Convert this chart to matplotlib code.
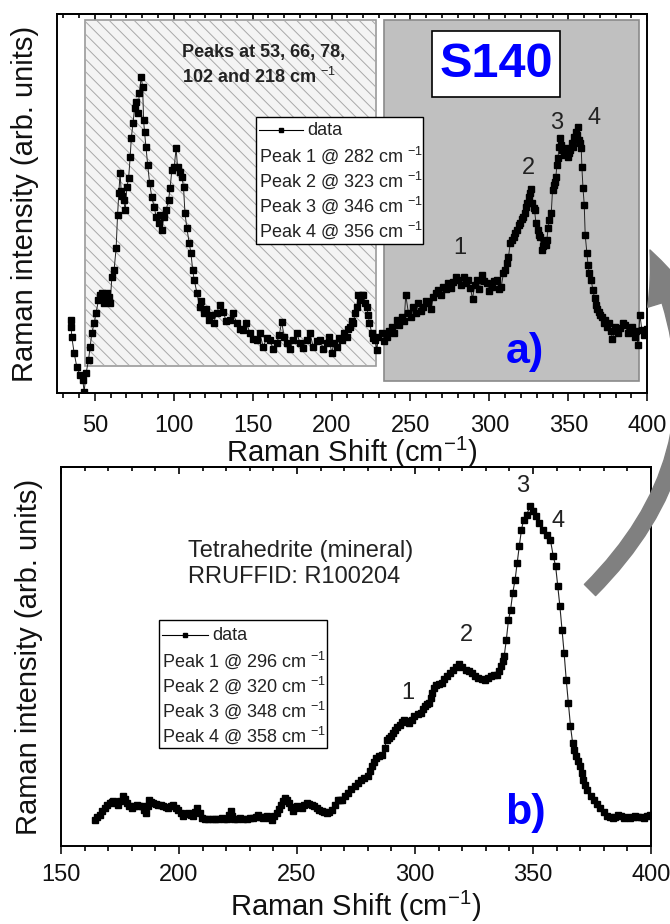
import matplotlib
matplotlib.use('Agg')
import matplotlib.pyplot as plt
import numpy as np
from matplotlib.patches import Rectangle, FancyArrowPatch
from matplotlib.collections import LineCollection
from matplotlib.lines import Line2D
import matplotlib.transforms as mtransforms

plt.rcParams['font.family'] = ['Liberation Sans', 'DejaVu Sans']
plt.rcParams['mathtext.fontset'] = 'custom'
plt.rcParams['mathtext.rm'] = 'Liberation Sans'
plt.rcParams['mathtext.it'] = 'Liberation Sans:italic'
plt.rcParams['mathtext.bf'] = 'Liberation Sans:bold'

# ---------------- data: panel a) S140 ----------------
a_x1 = [34.8, 35.0, 35.4, 36.9, 38.6, 40.7, 42.4, 43.2, 44.5, 46.0,
        47.0, 48.1, 49.6, 50.8, 52.3, 53.4, 54.4, 55.5, 56.5, 57.6,
        58.7, 59.7, 60.8, 62.2, 63.5, 64.4, 65.2, 66.0, 66.7, 67.4,
        68.2, 69.3, 70.3, 71.4, 72.4, 73.1, 74.2, 75.2, 76.3, 77.3,
        78.2, 79.4, 80.3, 80.9, 81.5, 82.4, 83.5, 84.7, 86.1, 87.6,
        88.9, 90.4, 91.5, 92.5, 93.6, 95.2, 96.7, 97.7, 98.8, 100.3,
        101.5, 102.4, 103.7, 105.2, 106.2, 107.1, 108.3, 109.8, 110.9, 112.0,
        113.0, 114.7, 116.4, 117.5, 118.9, 120.5, 122.1, 123.5, 125.3]
a_y1 = [73, 66, 56, 40, 26, 18, 13, 1, 20, 33,
        46, 60, 70, 80, 93, 98, 100, 90, 93, 100,
        96, 90, 116, 123, 145, 178, 200, 220, 202, 197,
        193, 183, 206, 215, 236, 255, 270, 285, 291, 280,
        300, 316, 306, 273, 261, 246, 228, 210, 196, 186,
        176, 170, 178, 163, 176, 183, 193, 205, 223, 226,
        245, 226, 221, 216, 206, 180, 165, 150, 140, 123,
        113, 100, 86, 92, 80, 84, 73, 78, 70]

a_x2 = [127.2, 129.0, 131.4, 133.2, 135.6, 137.5, 139.9, 142.0, 144.0, 146.0,
        148.3, 150.3, 152.5, 154.5, 156.7, 158.8, 161.0, 163.0, 165.2, 166.8,
        168.4, 170.0, 171.6, 173.7, 175.8, 177.9, 180.0, 182.1, 184.2, 186.3,
        188.4, 190.5, 192.7, 194.8, 196.9, 198.5, 200.0, 201.6, 203.2, 204.8,
        206.4, 208.0, 209.6, 210.6, 211.7, 212.8, 213.8, 214.9, 215.9, 217.0,
        218.0, 219.0, 220.1, 221.2, 222.3, 223.2, 224.0, 225.5, 226.5, 227.6,
        228.7]
a_y2 = [80, 88, 81, 72, 73, 80, 70, 64, 63, 70,
        60, 54, 53, 60, 46, 55, 53, 44, 50, 58,
        71, 56, 50, 44, 53, 60, 50, 45, 53, 60,
        46, 52, 53, 44, 50, 56, 40, 50, 46, 55,
        53, 60, 56, 64, 66, 72, 70, 80, 86, 98,
        93, 98, 98, 90, 86, 78, 70, 60, 55, 53,
        43]

a_x3 = [229.6, 231.8, 233.4, 235.0, 236.6, 238.1, 239.7, 241.3, 242.9, 244.5,
        246.0, 247.0, 248.7, 250.3, 251.9, 253.5, 255.0, 256.6, 258.2, 259.8,
        261.4, 263.0, 264.5, 266.1, 267.7, 269.3, 270.9, 272.5, 274.0, 275.6,
        277.2, 278.8, 280.4, 282.0, 283.6, 285.2, 286.7, 288.0, 289.3, 290.7,
        292.0, 293.6, 295.2, 296.8, 298.4, 300.0, 301.5, 303.1, 304.7, 306.1,
        307.5, 308.9, 310.0, 311.1, 312.1, 313.2, 314.2, 315.3, 316.4, 317.4,
        318.5, 319.5, 320.5, 321.6, 322.4, 323.1, 324.0, 324.8, 325.6, 326.5,
        327.3, 328.0, 328.6, 329.5, 330.7, 331.5, 332.2, 333.2, 334.0, 334.9,
        335.6, 336.4, 337.2, 337.9, 339.2, 340.0, 340.7, 341.3, 342.1, 342.8,
        343.4, 344.2, 344.9, 345.6, 346.3, 347.1, 348.0, 348.8, 349.7, 350.4,
        351.2, 352.2, 353.0, 353.7, 354.8, 355.5, 356.1, 356.9, 357.5, 358.2,
        358.6, 359.3, 360.1, 360.7, 361.8, 362.5, 363.3, 364.5, 365.6, 366.6,
        367.5, 368.3, 369.2, 370.2, 371.3, 372.3, 373.4, 374.4, 375.5, 376.8,
        378.0, 379.7, 381.3, 382.9, 384.5, 386.1, 387.6, 389.2, 390.6, 392.0,
        393.1, 394.1, 395.4, 396.6, 397.7, 398.7, 399.6]
a_y3 = [56, 60, 52, 56, 62, 66, 60, 73, 68, 76,
        72, 98, 80, 76, 86, 80, 90, 82, 86, 92,
        90, 84, 96, 100, 103, 98, 106, 104, 110, 105,
        111, 116, 113, 108, 116, 110, 113, 105, 94, 108,
        113, 104, 118, 112, 110, 102, 106, 112, 113, 104,
        106, 120, 123, 130, 136, 150, 153, 156, 160, 163,
        168, 170, 174, 176, 180, 186, 190, 196, 200, 204,
        190, 185, 183, 170, 163, 158, 156, 143, 147, 150,
        148, 153, 165, 173, 180, 203, 208, 211, 216, 228,
        235, 246, 255, 248, 243, 238, 240, 245, 236, 240,
        243, 250, 246, 256, 261, 258, 266, 253, 250, 245,
        226, 205, 188, 158, 140, 128, 120, 113, 103, 95,
        88, 84, 81, 78, 76, 70, 73, 66, 70, 62,
        54, 66, 60, 65, 70, 68, 60, 63, 66, 56,
        62, 48, 78, 63, 58, 60, 64]

a_peaks = ['Peak 1 @ 282 cm $^{-1}$', 'Peak 2 @ 323 cm $^{-1}$',
           'Peak 3 @ 346 cm $^{-1}$', 'Peak 4 @ 356 cm $^{-1}$']
a_peak_num_x = [281, 324.6, 342.3, 366.4]
a_peak_num_y = [145, 225, 270, 275]

# ---------------- data: panel b) Tetrahedrite ----------------
b_x1 = [164.4, 165.4, 166.5, 167.5, 168.6, 169.7, 170.8, 171.5, 172.2, 173.2,
        174.3, 175.2, 176.1, 177.0, 177.8, 178.9, 180.0, 181.0, 182.1, 183.1,
        184.2, 185.1, 186.0, 186.7, 187.4, 188.2, 189.1, 190.1, 191.2, 192.3,
        193.4, 194.4, 195.5, 196.5, 197.6, 198.6, 199.7, 200.7, 201.8, 202.8,
        203.9, 205.0, 206.1, 207.0, 207.8, 208.7, 209.6, 211.0, 212.4, 213.8,
        215.3, 216.7, 218.1, 219.1, 220.2, 221.0, 221.9, 222.6, 223.3, 224.5,
        225.8, 227.2, 228.7, 230.1, 231.5, 232.5, 233.6, 234.6, 235.7, 236.5,
        237.4, 238.3, 239.3, 240.3, 241.4, 242.2, 243.1, 244.0, 244.9, 245.8,
        246.7, 247.5, 248.4, 249.2, 250.1, 251.0, 252.0, 253.0, 254.1, 255.1,
        256.2, 257.2, 258.3, 259.4, 260.5, 261.5, 262.6, 263.6, 264.7, 266.1,
        267.5]
b_y1 = [26, 29, 31, 35, 38, 41, 43, 44, 45, 43,
        41, 45, 50, 47, 43, 40, 38, 40, 41, 40,
        40, 36, 33, 40, 46, 44, 43, 42, 41, 41,
        40, 39, 38, 40, 41, 38, 36, 33, 30, 32,
        33, 31, 30, 34, 38, 33, 28, 27, 27, 27,
        27, 27, 28, 27, 27, 31, 35, 30, 27, 27,
        28, 27, 27, 28, 28, 29, 31, 29, 28, 29,
        30, 28, 26, 30, 33, 37, 41, 45, 48, 46,
        43, 39, 35, 38, 40, 39, 38, 41, 43, 42,
        41, 40, 38, 36, 35, 34, 33, 34, 36, 41,
        46]

b_x2 = [268.3, 269.0, 270.3, 271.7, 273.0, 274.4, 275.8, 277.2, 278.5, 279.9,
        280.8, 281.7, 282.6, 283.5, 284.8, 286.2, 287.1, 288.0, 288.9, 289.8,
        290.7, 291.6, 292.5, 293.5, 294.4, 295.3, 296.4, 297.6, 298.7, 299.8,
        301.1, 302.5, 303.4, 304.3, 305.2, 306.1, 306.8, 307.4, 308.1, 308.8,
        310.2, 311.6, 312.5, 313.4, 314.7, 316.1, 317.4, 318.8, 320.1, 321.5,
        322.8, 324.2, 325.5, 326.9, 328.3, 329.7, 331.0, 332.4, 333.5, 334.6,
        335.5, 336.4, 337.1, 337.8]
b_y2 = [46, 46, 50, 53, 57, 60, 63, 66, 68, 70,
        75, 80, 84, 88, 90, 91, 98, 106, 108, 110,
        113, 116, 119, 121, 124, 126, 125, 123, 126, 130,
        132, 133, 137, 140, 142, 143, 148, 153, 158, 161,
        162, 163, 167, 170, 173, 176, 179, 182, 179, 176,
        175, 173, 170, 168, 167, 166, 168, 170, 171, 171,
        175, 180, 185, 190]

b_x3 = [338.7, 339.6, 340.5, 341.4, 342.4, 343.3, 344.2, 345.1, 346.0, 347.3,
        348.7, 350.1, 351.4, 352.7, 354.1, 355.9, 357.4, 358.6, 359.6, 360.5,
        361.4, 362.3, 363.2, 364.1, 365.0, 365.9, 366.8, 367.5, 368.3, 369.2,
        370.0, 370.7, 371.4, 372.2, 373.1, 374.4, 375.8, 377.2, 378.6, 380.0,
        381.3, 382.5, 383.7, 384.9, 386.1, 387.3, 388.5, 389.7, 391.0, 392.2,
        393.4, 394.6, 395.8, 397.0, 398.2, 399.4]
b_y3 = [206, 226, 236, 253, 266, 283, 300, 316, 326, 331,
        340, 335, 330, 323, 316, 311, 306, 290, 280, 260,
        240, 216, 193, 166, 143, 120, 103, 96, 90, 85,
        80, 73, 66, 61, 56, 50, 46, 42, 38, 34,
        30, 29, 28, 29, 31, 30, 28, 29, 28, 29,
        30, 29, 29, 28, 30, 31]

b_peaks = ['Peak 1 @ 296 cm $^{-1}$', 'Peak 2 @ 320 cm $^{-1}$',
           'Peak 3 @ 348 cm $^{-1}$', 'Peak 4 @ 358 cm $^{-1}$']
b_peak_num_x = [297, 321.6, 345.8, 360.6]
b_peak_num_y = [153, 211, 360, 325]

peak_nums = ['1', '2', '3', '4']

# ---------------- figure ----------------
fig = plt.figure(figsize=(6.7, 9.24), dpi=100)
axA = fig.add_axes([0.085, 0.5747, 0.881, 0.410])
axB = fig.add_axes([0.091, 0.0844, 0.8806, 0.410])


def style(ax, xlim, major, minor, label_y, tick_pad):
    ax.set_xlim(*xlim)
    ax.set_ylim(0, 379)
    ax.set_xticks(major)
    ax.set_xticks(minor, minor=True)
    ax.set_yticks([])
    ax.tick_params(axis='x', which='major', direction='out', length=5.8,
                   width=1.2, labelsize=17, pad=tick_pad, colors='#111111')
    ax.tick_params(axis='x', which='minor', direction='out', length=3.6, width=1.2)
    for s in ax.spines.values():
        s.set_linewidth(1.4)
    sec = ax.secondary_xaxis('top')
    sec.set_xticks(major)
    sec.set_xticks(minor, minor=True)
    sec.tick_params(axis='x', which='major', direction='in', length=5.2, width=1.2,
                    labeltop=False, labelbottom=False)
    sec.tick_params(axis='x', which='minor', direction='in', length=3.2, width=1.2,
                    labeltop=False, labelbottom=False)
    sec.spines['top'].set_linewidth(1.4)
    ax.set_xlabel('Raman Shift (cm$^{-1}$)', fontsize=21, color='#111111',
                  va='baseline')
    ax.xaxis.set_label_coords(0.5, label_y)
    ax.set_ylabel('Raman intensity (arb. units)', fontsize=21, labelpad=13,
                  color='#111111')


style(axA, (26, 400), np.arange(50, 401, 50), np.arange(30, 401, 10), -0.182, 10)
style(axB, (150, 400), np.arange(150, 401, 50), np.arange(150, 401, 10), -0.1847, 7)

# ---- panel a background regions ----
trans = mtransforms.blended_transform_factory(axA.transData, axA.transAxes)
hatch_rect = Rectangle((43.7, 0.071), 228 - 43.7, 0.984 - 0.071, transform=trans,
                       facecolor='#f4f4f4', edgecolor='#9a9a9a', lw=1.2, zorder=0.5)
axA.add_patch(hatch_rect)
dark_rect = Rectangle((233.5, 0.032), 395 - 233.5, 0.984 - 0.032, transform=trans,
                      facecolor='#c0c0c0', edgecolor='#8a8a8a', lw=1.2, zorder=0.5)
axA.add_patch(dark_rect)

# diagonal hatch lines clipped to the light rectangle (display pixels)
bb = hatch_rect.get_window_extent()
H = bb.height + 10
segs = []
xs = bb.x0 - H
while xs < bb.x1 + 5:
    segs.append([(xs, bb.y1 + 5), (xs + H + 5, bb.y1 - H)])
    xs += 12.5
lc = LineCollection(segs, colors='#a8a8a8', linewidths=0.7,
                    transform=mtransforms.IdentityTransform(), zorder=0.6)
axA.add_collection(lc)
lc.set_clip_path(hatch_rect)

# ---- data ----
a_x = a_x1 + a_x2 + a_x3
a_y = a_y1 + a_y2 + a_y3
b_x = b_x1 + b_x2 + b_x3
b_y = b_y1 + b_y2 + b_y3
axA.plot(a_x, a_y, color='#222222', lw=0.7, marker='s', ms=4.4,
         mfc='black', mec='black', zorder=3)
axB.plot(b_x, b_y, color='#222222', lw=0.8, marker='s', ms=3.8,
         mfc='black', mec='black', zorder=3)

# ---- panel a annotations ----
axA.add_patch(Rectangle((0.636, 0.781), 0.217, 0.174, transform=axA.transAxes,
                        facecolor='white', edgecolor='black', lw=1.2, zorder=4))
axA.text(0.744, 0.868, 'S140', transform=axA.transAxes, fontsize=35,
         fontweight='bold', color='#0000ff', ha='center', va='center', zorder=5)
axA.text(0.212, 0.864, 'Peaks at 53, 66, 78,\n102 and 218 cm $^{-1}$',
         transform=axA.transAxes, fontsize=13, fontweight='bold', color='#222222',
         ha='left', va='center', linespacing=1.35, zorder=4)
axA.text(0.793, 0.108, 'a)', transform=axA.transAxes, fontsize=31,
         fontweight='bold', color='#0000ff', ha='center', va='center', zorder=5)
for px, py, t in zip(a_peak_num_x, a_peak_num_y, peak_nums):
    axA.text(px, py, t, fontsize=17, ha='center', va='center', color='#222222', zorder=4)

# ---- panel b annotations ----
axB.text(0.215, 0.744, 'Tetrahedrite (mineral)\nRRUFFID: R100204',
         transform=axB.transAxes, fontsize=17, ha='left', va='center',
         linespacing=1.25, color='#222222')
axB.text(0.788, 0.087, 'b)', transform=axB.transAxes, fontsize=31,
         fontweight='bold', color='#0000ff', ha='center', va='center', zorder=5)
for px, py, t in zip(b_peak_num_x, b_peak_num_y, peak_nums):
    axB.text(px, py, t, fontsize=17, ha='center', va='center', color='#222222', zorder=4)


def legend_box(ax, box, rows_y, text_x, hx0, hx1, data_x, labels):
    ax.add_patch(Rectangle((box[0], box[1]), box[2] - box[0], box[3] - box[1],
                           transform=ax.transAxes, facecolor='white',
                           edgecolor='black', lw=1.0, zorder=6))
    ax.add_line(Line2D([hx0, hx1], [rows_y[0], rows_y[0]], transform=ax.transAxes,
                       color='black', lw=0.8, zorder=7))
    ax.add_line(Line2D([(hx0 + hx1) / 2], [rows_y[0]], transform=ax.transAxes,
                       marker='s', ms=3.5, color='black', lw=0, zorder=7))
    ax.text(data_x, rows_y[0], 'data', transform=ax.transAxes, fontsize=13,
            ha='left', va='center', color='#222222', zorder=7)
    for yy, lab in zip(rows_y[1:], labels):
        ax.text(text_x, yy, lab, transform=ax.transAxes, fontsize=13,
                ha='left', va='center', color='#222222', zorder=7)


legend_box(axA, (0.337, 0.393, 0.620, 0.728),
           [0.694, 0.628, 0.562, 0.496, 0.430], 0.342, 0.342, 0.417, 0.424, a_peaks)
legend_box(axB, (0.166, 0.259, 0.451, 0.596),
           [0.557, 0.491, 0.425, 0.359, 0.293], 0.171, 0.171, 0.249, 0.256, b_peaks)

# ---- big grey curved arrow from b) to a) ----
arrow = FancyArrowPatch(posA=(590 / 670, 1 - 590 / 924), posB=(650 / 670, 1 - 250 / 924),
                        transform=fig.transFigure, connectionstyle='arc3,rad=0.35',
                        arrowstyle='simple,head_length=1.3,head_width=1.1,tail_width=0.38',
                        mutation_scale=30, color='#808080', zorder=10,
                        shrinkA=0, shrinkB=0, joinstyle='round', capstyle='round')
fig.add_artist(arrow)

fig.savefig('out.png', dpi=100)
